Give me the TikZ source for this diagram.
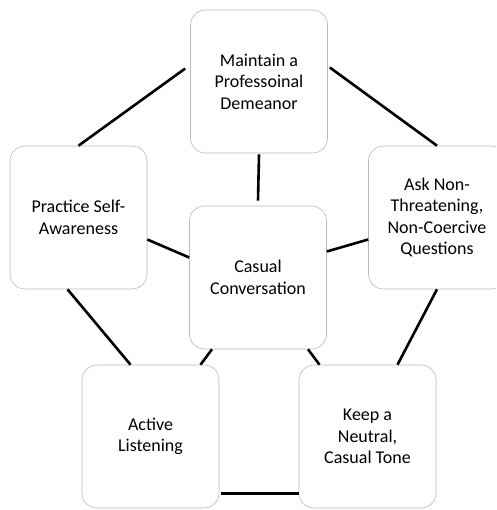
\documentclass[tikz,border=0pt]{standalone}
\usepackage{fontspec}
\setmainfont{Carlito}
\begin{document}
\begin{tikzpicture}[x=1pt,y=-1pt,
  box/.style={draw=black!28, line width=0.6pt, rounded corners=15pt,
    minimum width=137pt, minimum height=143pt, align=center,
    font=\fontsize{18}{21.5}\selectfont, inner sep=0pt},
  link/.style={line width=2.6pt, black}]
\useasboundingbox (0,0) rectangle (496,510);
\clip (0,0) rectangle (496,510);
\node[box] (top) at (259,81.5) {Maintain a\\Professoinal\\Demeanor};
\node[box] (left) at (78.5,217.5) {Practice Self-\\Awareness};
\node[box] (right) at (437,217.5) {Ask Non-\\Threatening,\\Non-Coercive\\Questions};
\node[box] (center) at (258,277.5) {Casual\\Conversation};
\node[box] (bl) at (150.5,436.5) {Active\\Listening};
\node[box] (br) at (367.5,436.5) {Keep a\\Neutral,\\Casual Tone};
\draw[link] ([xshift=-5pt,yshift=13pt]top.west) -- (left.north);
\draw[link] ([xshift=2pt,yshift=14pt]top.east) -- (right.north);
\draw[link] ([yshift=-1pt]top.south) -- ([yshift=5pt]center.north);
\draw[link] ([yshift=-22pt]left.east) -- ([yshift=20pt]center.west);
\draw[link] ([yshift=-22pt]right.west) -- ([yshift=26pt]center.east);
\draw[link] ([xshift=-11pt]left.south) -- ([xshift=-20pt]bl.north);
\draw[link] (right.south) -- ([xshift=30pt]br.north);
\draw[link] ([xshift=-46pt]center.south) -- ([xshift=50pt]bl.north);
\draw[link] ([xshift=50pt]center.south) -- ([xshift=-48pt]br.north);
\draw[link] ([xshift=2pt,yshift=15pt]bl.south east) -- ([yshift=15pt]br.south west);
\end{tikzpicture}
\end{document}
